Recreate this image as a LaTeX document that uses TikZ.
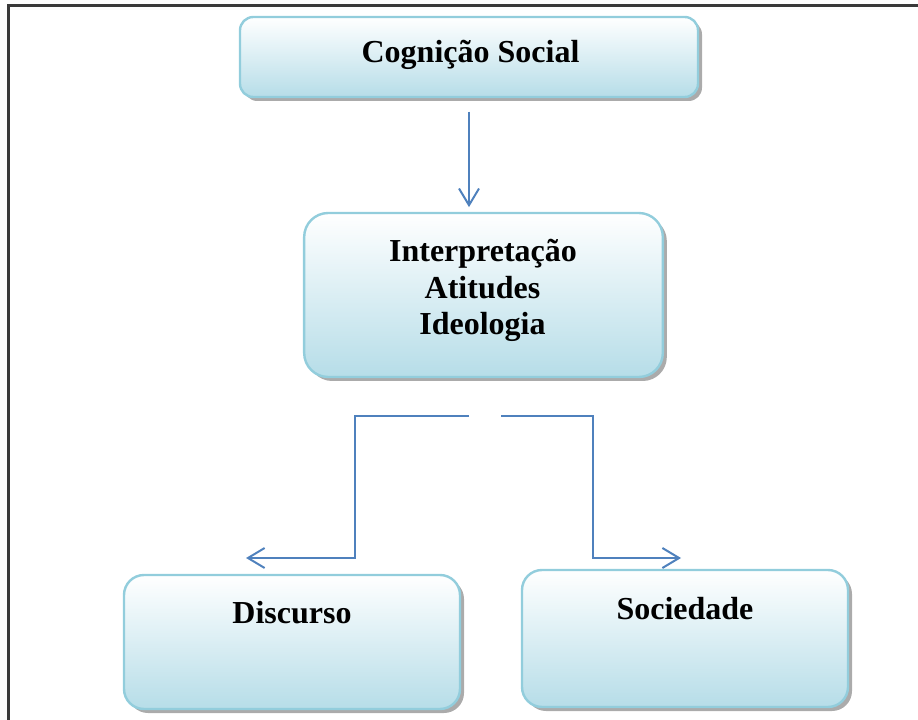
\documentclass[tikz,border=0pt]{standalone}
\usepackage{fontspec}
\setmainfont{Liberation Serif}
\usetikzlibrary{arrows.meta,shadows}
\definecolor{boxedge}{HTML}{92CDDC}
\definecolor{boxfill}{HTML}{B6DDE8}
\definecolor{linkblue}{HTML}{4F81BD}
\definecolor{framegray}{HTML}{3A3A3A}
\tikzset{
  box/.style={rectangle, draw=boxedge, line width=1.8pt, inner sep=0pt,
    top color=white, bottom color=boxfill,
    general shadow={fill=black!55, opacity=0.6, shadow xshift=3pt, shadow yshift=-3pt}},
  lbl/.style={font=\bfseries\fontsize{24}{28}\selectfont, inner sep=0pt, anchor=base},
  link/.style={draw=linkblue, line width=1.5pt,
    -{Straight Barb[length=12.5pt, width=15pt, line width=1.5pt]}},
}
\begin{document}
\begin{tikzpicture}[x=0.75pt, y=-0.75pt]
\useasboundingbox (0,0) rectangle (918,720);

% page frame (top and left rules)
\draw[framegray, line width=1.6pt] (8.5,720) -- (8.5,5.5) -- (918,5.5);

% boxes
\node[box, rounded corners=10pt, minimum width=343.5pt, minimum height=60pt] (cog) at (469,57) {};
\node[box, rounded corners=18pt, minimum width=269pt, minimum height=123pt] (mid) at (483.5,295) {};
\node[box, rounded corners=15pt, minimum width=252pt, minimum height=100.5pt] (disc) at (292,642) {};
\node[box, rounded corners=15pt, minimum width=244.5pt, minimum height=102.75pt] (soc) at (685,638.5) {};

% labels
\node[lbl] (tcog) at (470.5,63) {Cognição Social};
\node[lbl] (tint) at (483,262) {Interpretação};
\node[lbl] (tati) at (482.5,299) {Atitudes};
\node[lbl] (tide) at (482.5,335) {Ideologia};
\node[lbl] (tdisc) at (292,623) {Discurso};
\node[lbl] (tsoc) at (685,619) {Sociedade};

% connectors
\coordinate (splitL) at (469,416);
\coordinate (splitR) at (501,416);
\coordinate (tipL) at (246,558);
\coordinate (tipR) at (681,558);

\draw[link, shorten <=10pt, shorten >=3.5pt] (cog.south) -- (cog.south |- mid.north);
\draw[link] (splitL) -| (355,558) -- (tipL);
\draw[link] (splitR) -| (593,558) -- (tipR);
\end{tikzpicture}
\end{document}
